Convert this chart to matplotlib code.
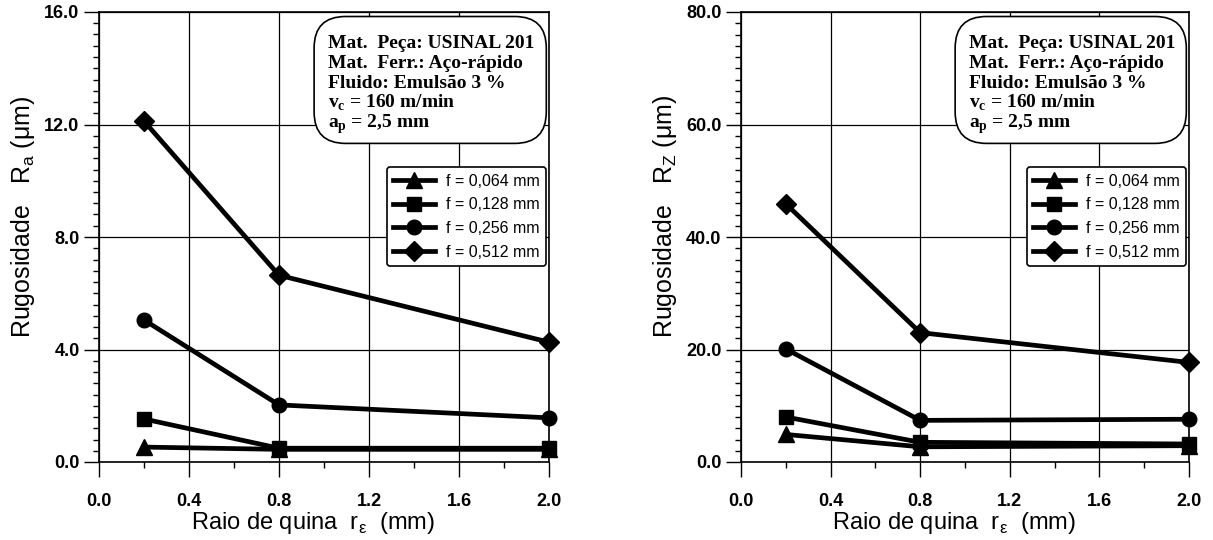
import matplotlib
matplotlib.use('Agg')
import matplotlib.pyplot as plt
from matplotlib.patches import FancyBboxPatch
from matplotlib.ticker import MultipleLocator

# Corner radius r_e (mm) at which the tests were run
radius = [0.2, 0.8, 2.0]

# Feed rates shown in the legend and their marker shapes
feed_labels = ['f = 0,064 mm', 'f = 0,128 mm', 'f = 0,256 mm', 'f = 0,512 mm']
feed_markers = ['^', 's', 'o', 'D']
marker_sizes = [11, 10, 10.5, 10.5]

# Average roughness Ra (um), one list per feed rate
ra_f064 = [0.53, 0.45, 0.45]
ra_f128 = [1.53, 0.49, 0.49]
ra_f256 = [5.05, 2.03, 1.57]
ra_f512 = [12.12, 6.64, 4.26]

# Peak-to-valley roughness Rz (um), one list per feed rate
rz_f064 = [4.9, 2.7, 2.9]
rz_f128 = [8.0, 3.5, 3.2]
rz_f256 = [20.1, 7.4, 7.6]
rz_f512 = [45.9, 23.0, 17.7]

x_ticks = [0.0, 0.4, 0.8, 1.2, 1.6, 2.0]
ra_ticks = [0.0, 4.0, 8.0, 12.0, 16.0]
rz_ticks = [0.0, 20.0, 40.0, 60.0, 80.0]

cond_lines = ['Mat.  Peça: USINAL 201',
              'Mat.  Ferr.: Aço-rápido',
              'Fluido: Emulsão 3 %',
              r'v$_\mathregular{c}$ = 160 m/min',
              r'a$_\mathregular{p}$ = 2,5 mm']

SANS = 'Liberation Sans'
SERIF = 'Liberation Serif'

fig = plt.figure(figsize=(12.13, 5.40), dpi=100)
ax_ra = fig.add_axes([99 / 1213, 78 / 540, 450 / 1213, 450 / 540])
ax_rz = fig.add_axes([741 / 1213, 78 / 540, 448 / 1213, 450 / 540])


def draw_panel(ax, series, yticks, yminor, ylabel):
    for vals, mk, ms, lab in zip(series, feed_markers, marker_sizes, feed_labels):
        ax.plot(radius, vals, color='black', lw=3.4, marker=mk, ms=ms,
                mfc='black', mec='black', label=lab, zorder=3,
                solid_joinstyle='round', clip_on=False)
    ax.set_xlim(x_ticks[0], x_ticks[-1])
    ax.set_ylim(yticks[0], yticks[-1])
    ax.set_xticks(x_ticks)
    ax.set_yticks(yticks)
    ax.set_xticklabels([f'{v:.1f}' for v in x_ticks], fontfamily=SANS,
                       fontweight='bold', fontsize=13)
    ax.set_yticklabels([f'{v:.1f}' for v in yticks], fontfamily=SANS,
                       fontweight='bold', fontsize=13)
    ax.set_xticks([0.2, 0.6, 1.0, 1.4, 1.8], minor=True)
    ax.yaxis.set_minor_locator(MultipleLocator(yminor))
    ax.tick_params(axis='both', which='major', direction='out', length=11,
                   width=1.0, color='black')
    ax.tick_params(axis='x', which='major', pad=11)
    ax.tick_params(axis='y', which='major', pad=3)
    ax.tick_params(axis='both', which='minor', direction='out', length=4,
                   width=1.0, color='black')
    ax.grid(True, which='major', color='black', lw=0.9)
    ax.set_axisbelow(True)
    for sp in ax.spines.values():
        sp.set_linewidth(1.2)
    ax.set_xlabel(r'Raio de quina  r$_\mathregular{ε}$  (mm)', fontfamily=SANS,
                  fontsize=17, labelpad=0)
    ax.xaxis.label.set_x(0.475)
    ax.set_ylabel(ylabel, fontfamily=SANS, fontsize=18, labelpad=5)
    ax.yaxis.label.set_y(0.545)

    # Cutting conditions box
    box = FancyBboxPatch((0.478, 0.708), 0.516, 0.282,
                         boxstyle='round,pad=0,rounding_size=0.07',
                         transform=ax.transAxes, facecolor='white',
                         edgecolor='black', lw=1.2, zorder=4)
    ax.add_patch(box)
    for i, line in enumerate(cond_lines):
        ax.text(0.51, 0.92 - i * 0.0445, line, transform=ax.transAxes,
                fontfamily=SERIF, fontweight='bold', fontsize=14,
                va='baseline', ha='left', zorder=5)

    leg = ax.legend(loc='upper right', bbox_to_anchor=(0.993, 0.655),
                    borderaxespad=0, frameon=True, fancybox=True,
                    prop={'family': SANS, 'size': 11.5},
                    handlelength=2.6, handletextpad=0.7, labelspacing=0.54,
                    borderpad=0.4, framealpha=1)
    leg.get_frame().set_edgecolor('black')
    leg.get_frame().set_linewidth(1.2)
    leg.set_zorder(6)


draw_panel(ax_ra, [ra_f064, ra_f128, ra_f256, ra_f512], ra_ticks, 0.4,
           r'Rugosidade   R$_\mathregular{a}$ (μm)')
draw_panel(ax_rz, [rz_f064, rz_f128, rz_f256, rz_f512], rz_ticks, 2.0,
           r'Rugosidade   R$_\mathregular{Z}$ (μm)')

fig.savefig('out.png', dpi=100, facecolor='white')
